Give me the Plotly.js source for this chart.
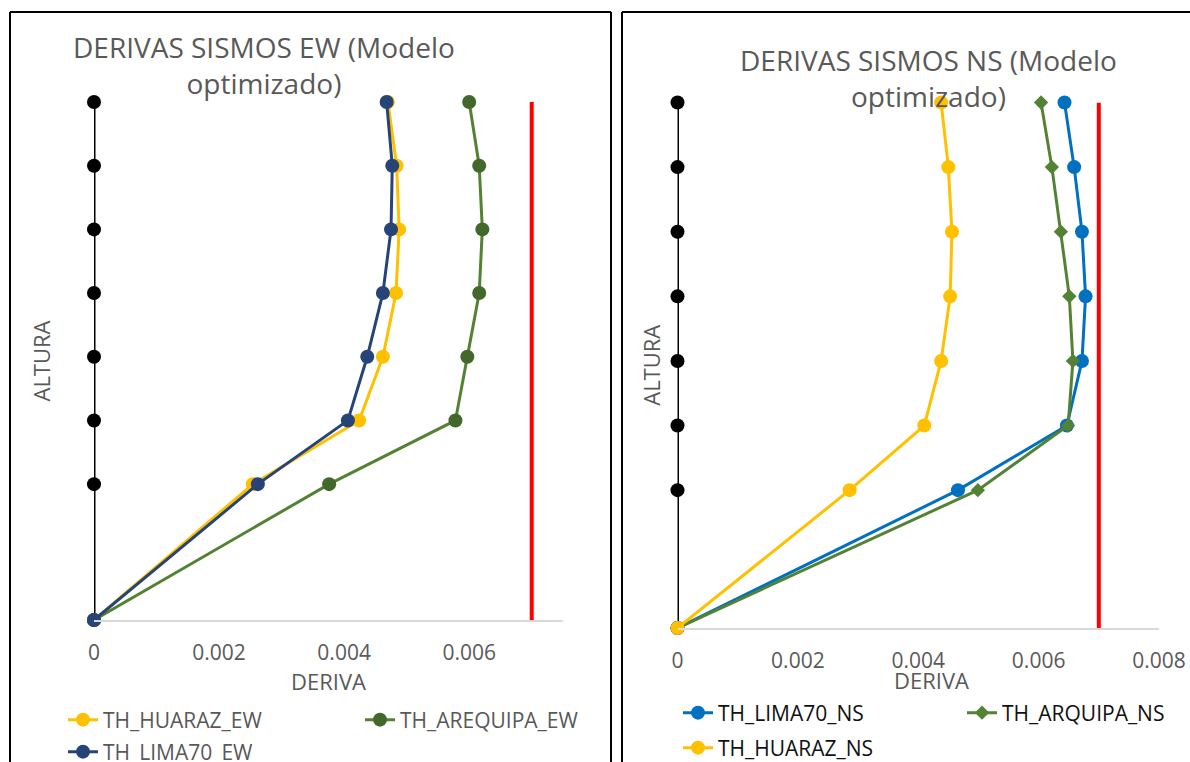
<!DOCTYPE html>
<html><head><meta charset="utf-8">
<script src="https://cdn.plot.ly/plotly-3.0.1.min.js"></script>
<style>html,body{margin:0;padding:0;background:#fff;overflow:hidden;} #chart{width:1190px;height:762px;}</style>
</head><body><div id="chart"></div>
<script>
// Alturas de los niveles (m) y derivas
const alturas = [0, 6.4, 9.4, 12.4, 15.4, 18.4, 21.4, 24.4];
const eje = [0, 0, 0, 0, 0, 0, 0, 0];
const huarazEW = [0, 0.00254, 0.00424, 0.00462, 0.00483, 0.00488, 0.00484, 0.00470];
const arequipaEW = [0, 0.00376, 0.00578, 0.00597, 0.00616, 0.00621, 0.00616, 0.00600];
const lima70EW = [0, 0.00262, 0.00406, 0.00437, 0.00462, 0.00475, 0.00477, 0.00468];
const lima70NS = [0, 0.00466, 0.00647, 0.00672, 0.00678, 0.00672, 0.00659, 0.00643];
const arquipaNS = [0, 0.00499, 0.00649, 0.00657, 0.00651, 0.00637, 0.00622, 0.00604];
const huarazNS = [0, 0.00286, 0.00410, 0.00438, 0.00453, 0.00456, 0.00450, 0.00438];
const limite = [0.007, 0.007];
const limiteAltura = [0, 24.4];
const ticksEW = [0, 0.002, 0.004, 0.006];
const ticksNS = [0, 0.002, 0.004, 0.006, 0.008];

const W = 1190, H = 762;
const px = v => v / W, py = v => 1 - v / H;

function serie(x, name, color, mcolor, xa, ya, leg, symbol, msize) {
  return {
    type: 'scatter', mode: 'lines+markers', x: x, y: alturas, name: name,
    xaxis: xa, yaxis: ya, legend: leg, cliponaxis: false,
    line: {color: color, width: 3},
    marker: {color: mcolor, size: msize || 14, symbol: symbol || 'circle'}
  };
}

const traces = [
  Object.assign(serie(eje, 'eje', '#000000', '#000000', 'x', 'y', 'legend'), {showlegend: false}),
  serie(huarazEW, 'TH_HUARAZ_EW', '#FFC000', '#FFC000', 'x', 'y', 'legend'),
  serie(arequipaEW, 'TH_AREQUIPA_EW', '#548235', '#43682B', 'x', 'y', 'legend'),
  serie(lima70EW, 'TH_LIMA70_EW', '#264478', '#264478', 'x', 'y', 'legend2'),
  {type: 'scatter', mode: 'lines', x: limite, y: limiteAltura, xaxis: 'x', yaxis: 'y',
   showlegend: false, cliponaxis: false, line: {color: '#FF0000', width: 4}},

  Object.assign(serie(eje, 'eje', '#000000', '#000000', 'x2', 'y2', 'legend3'), {showlegend: false}),
  serie(lima70NS, 'TH_LIMA70_NS', '#0070C0', '#0070C0', 'x2', 'y2', 'legend3'),
  serie(arquipaNS, 'TH_ARQUIPA_NS', '#548235', '#548235', 'x2', 'y2', 'legend3', 'diamond', 11),
  serie(huarazNS, 'TH_HUARAZ_NS', '#FFC000', '#FFC000', 'x2', 'y2', 'legend4'),
  {type: 'scatter', mode: 'lines', x: limite, y: limiteAltura, xaxis: 'x2', yaxis: 'y2',
   showlegend: false, cliponaxis: false, line: {color: '#FF0000', width: 4}}
];

const xcommon = {
  showgrid: false, zeroline: false, showline: true, linecolor: '#D9D9D9', linewidth: 1.5,
  ticks: '', tickmode: 'array', tickfont: {family: 'Open Sans', size: 21, color: '#595959'},
  ticklabelstandoff: 13, fixedrange: true
};
const ycommon = {
  showgrid: false, zeroline: false, showline: false, showticklabels: false, ticks: '',
  range: [0, 24.4], fixedrange: true
};
const legcommon = {
  orientation: 'h', xanchor: 'left', yanchor: 'middle', bgcolor: 'rgba(0,0,0,0)',
  traceorder: 'normal', entrywidthmode: 'pixels'
};

function seg(x0, y0, x1, y1) {
  return {type: 'line', xref: 'paper', yref: 'paper', x0: x0, y0: y0, x1: x1, y1: y1,
          line: {color: '#000000', width: 2}, layer: 'below'};
}

const layout = {
  width: W, height: H, margin: {l: 0, r: 0, t: 0, b: 0, autoexpand: false},
  paper_bgcolor: '#ffffff', plot_bgcolor: 'rgba(0,0,0,0)',
  font: {family: 'Open Sans', color: '#595959'},
  xaxis: Object.assign({}, xcommon, {
    domain: [px(94), px(563)], range: [0, 0.0075], anchor: 'y',
    tickvals: ticksEW, ticktext: ticksEW.map(String),
    title: {text: 'DERIVA', font: {size: 22, color: '#595959'}, standoff: 0}
  }),
  yaxis: Object.assign({}, ycommon, {
    domain: [py(620), py(102)], anchor: 'x',
    title: {text: 'ALTURA', font: {size: 22, color: '#595959'}, standoff: 36}
  }),
  xaxis2: Object.assign({}, xcommon, {
    domain: [px(677.5), px(1159)], range: [0, 0.008], anchor: 'y2',
    tickvals: ticksNS, ticktext: ticksNS.map(String)
  }),
  yaxis2: Object.assign({}, ycommon, {
    domain: [py(628), py(102.5)], anchor: 'x2',
    title: {text: 'ALTURA', font: {size: 22, color: '#595959'}, standoff: 9}
  }),
  legend: Object.assign({}, legcommon, {x: px(63), y: py(720), entrywidth: 252,
    font: {family: 'Open Sans', size: 21, color: '#595959'}}),
  legend2: Object.assign({}, legcommon, {x: px(63), y: py(752), entrywidth: 252,
    font: {family: 'Open Sans', size: 21, color: '#595959'}}),
  legend3: Object.assign({}, legcommon, {x: px(678), y: py(713), entrywidth: 239,
    font: {family: 'Open Sans', size: 21, color: '#111111'}}),
  legend4: Object.assign({}, legcommon, {x: px(678), y: py(748), entrywidth: 239,
    font: {family: 'Open Sans', size: 21, color: '#111111'}}),
  annotations: [
    {text: 'DERIVAS SISMOS EW (Modelo<br>optimizado)', xref: 'paper', yref: 'paper',
     x: px(264), y: py(65), xanchor: 'center', yanchor: 'middle', showarrow: false,
     font: {family: 'Open Sans', size: 28, color: '#595959'}},
    {text: 'DERIVAS SISMOS NS (Modelo<br>optimizado)', xref: 'paper', yref: 'paper',
     x: px(928.5), y: py(78), xanchor: 'center', yanchor: 'middle', showarrow: false,
     font: {family: 'Open Sans', size: 28, color: '#595959'}},
    {text: 'DERIVA', xref: 'paper', yref: 'paper',
     x: px(931), y: py(680), xanchor: 'center', yanchor: 'middle', showarrow: false,
     font: {family: 'Open Sans', size: 22, color: '#595959'}}
  ],
  shapes: [
    seg(px(10), 0, px(10), py(12)), seg(px(10), py(12), px(611), py(12)), seg(px(611), 0, px(611), py(12)),
    seg(px(622), 0, px(622), py(12)), seg(px(622), py(12), 1, py(12))
  ]
};

Plotly.newPlot('chart', traces, layout, {displayModeBar: false, staticPlot: true});
</script>
</body></html>
